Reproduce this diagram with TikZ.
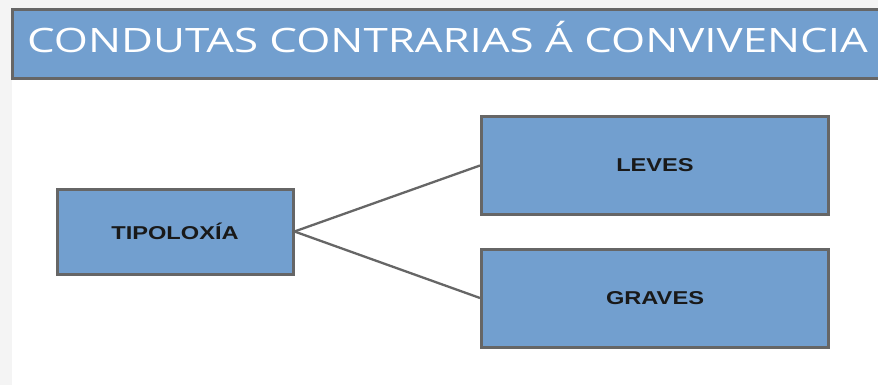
\documentclass[tikz,border=0pt]{standalone}
\usepackage{fontspec}
\setmainfont{Liberation Sans}
\newfontfamily\titlefont{Open Sans}
\definecolor{boxblue}{HTML}{729FCF}
\definecolor{edgegray}{HTML}{666666}
\definecolor{framegray}{HTML}{F4F4F4}
\tikzset{
  catbox/.style={draw=edgegray, line width=3pt, fill=boxblue, rectangle, inner sep=0pt,
    font=\fontsize{18.6pt}{20pt}\selectfont\bfseries, text=black!90},
  link/.style={draw=edgegray, line width=2.3pt},
}
\begin{document}
\begin{tikzpicture}[x=1pt,y=-1pt]
\useasboundingbox (0,0) rectangle (878,385);
\fill[framegray] (0,0) rectangle (878,385);
\fill[white] (12,9) rectangle (878,385);
\filldraw[fill=boxblue, draw=edgegray, line width=3pt] (12,10) rectangle (900,79);
\node[anchor=base west, inner sep=0pt, text=white, font=\titlefont\fontsize{33.6pt}{36pt}\selectfont] (title) at (27,53) {\scalebox{1.305}[1]{CONDUTAS CONTRARIAS Á CONVIVENCIA}};
\node[catbox, minimum width=236pt, minimum height=85pt] (tip) at (175,231.5) {\scalebox{1.27}[1]{TIPOLOXÍA}};
\node[catbox, minimum width=347pt, minimum height=97pt] (leves) at (655,165.5) {\scalebox{1.27}[1]{LEVES}};
\node[catbox, minimum width=347pt, minimum height=98pt] (graves) at (655,298) {\scalebox{1.27}[1]{GRAVES}};
\draw[link] (tip.east) -- (leves.west);
\draw[link] (tip.east) -- (graves.west);
\end{tikzpicture}
\end{document}
